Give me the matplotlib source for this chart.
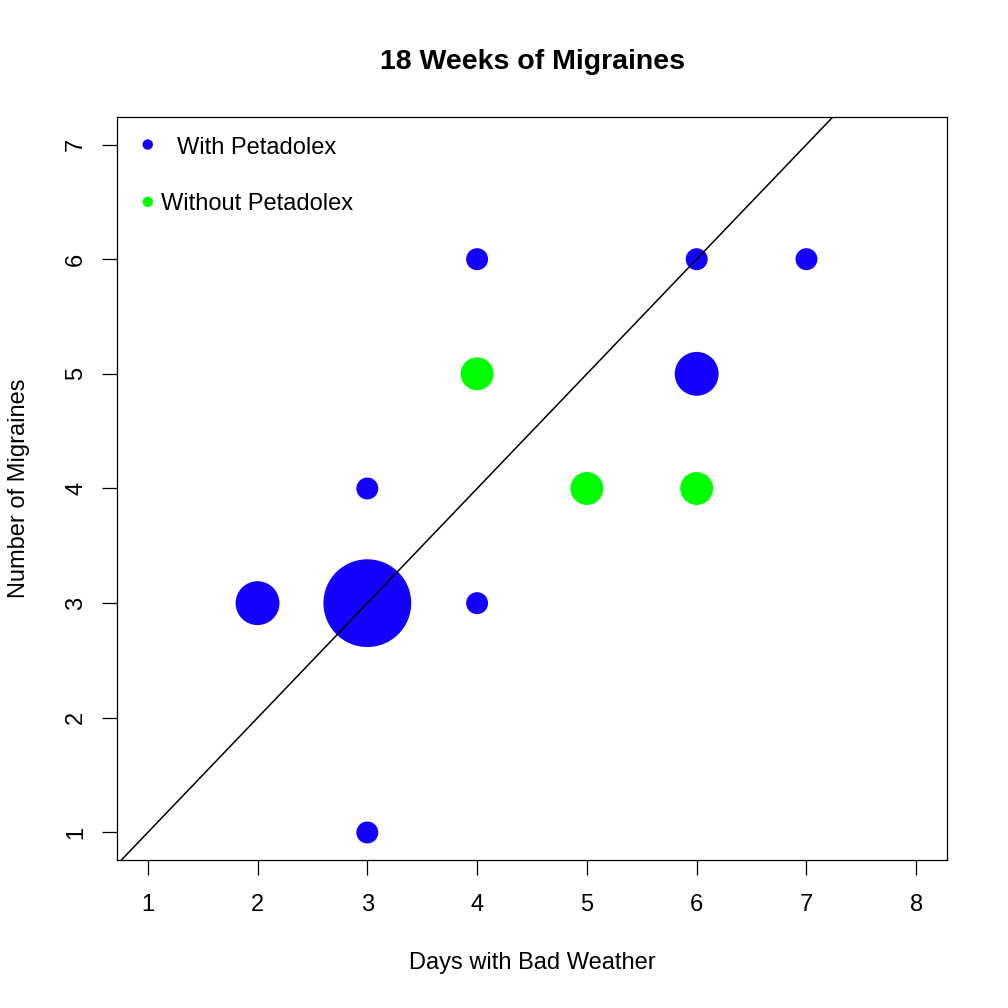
import matplotlib
matplotlib.use("Agg")
import matplotlib.pyplot as plt
import numpy as np

plt.rcParams['font.family'] = ['Liberation Sans', 'DejaVu Sans']

# data
with_x = [2, 3, 3, 3, 4, 4, 6, 6, 7]
with_y = [3, 3, 4, 1, 6, 3, 6, 5, 6]
with_weeks = [2, 4, 1, 1, 1, 1, 1, 2, 1]
without_x = [4, 5, 6]
without_y = [5, 4, 4]
without_weeks = [1.5, 1.5, 1.5]
x_ticks = [1, 2, 3, 4, 5, 6, 7, 8]
y_ticks = [1, 2, 3, 4, 5, 6, 7]

BLUE = '#1400FF'
GREEN = '#00FF00'

fig = plt.figure(figsize=(10.08, 10.08), dpi=100)
ax = fig.add_axes([117/1008, 1-860/1008, (947-117)/1008, (860-117)/1008])

base_d = 15.8  # diameter in points for 1 week
ax.scatter(with_x, with_y, s=(base_d*np.array(with_weeks))**2, c=BLUE, edgecolors='none', zorder=2)
ax.scatter(without_x, without_y, s=(base_d*np.array(without_weeks))**2, c=GREEN, edgecolors='none', zorder=2)

ax.set_xlim(0.72, 8.28)
ax.set_ylim(0.76, 7.24)
ax.axline((0, 0), slope=1, color='black', lw=1.1, zorder=3)

ax.set_xticks(x_ticks)
ax.set_yticks(y_ticks)
ax.set_yticklabels([str(v) for v in y_ticks], rotation=90, va='center')
ax.tick_params(direction='out', length=10.5, width=0.9, labelsize=17)
ax.tick_params(axis='x', pad=14)
ax.tick_params(axis='y', pad=11)
for s in ax.spines.values():
    s.set_linewidth(0.9)

ax.set_xlabel('Days with Bad Weather', fontsize=17, labelpad=26)
ax.set_ylabel('Number of Migraines', fontsize=17, labelpad=25)
fig.text(532/1008, 1-62/1008, '18 Weeks of Migraines', fontsize=20.5, fontweight='bold', ha='center', va='center')

# legend (no box)
ax.scatter([1], [7], s=7.5**2, c=BLUE, edgecolors='none', clip_on=False)
ax.scatter([1], [6.5], s=7.5**2, c=GREEN, edgecolors='none', clip_on=False)
ax.text(1.27, 6.921, 'With Petadolex', fontsize=17, va='baseline', ha='left')
ax.text(1.12, 6.428, 'Without Petadolex', fontsize=17, va='baseline', ha='left')

fig.savefig('out.png', dpi=100, facecolor='white')
